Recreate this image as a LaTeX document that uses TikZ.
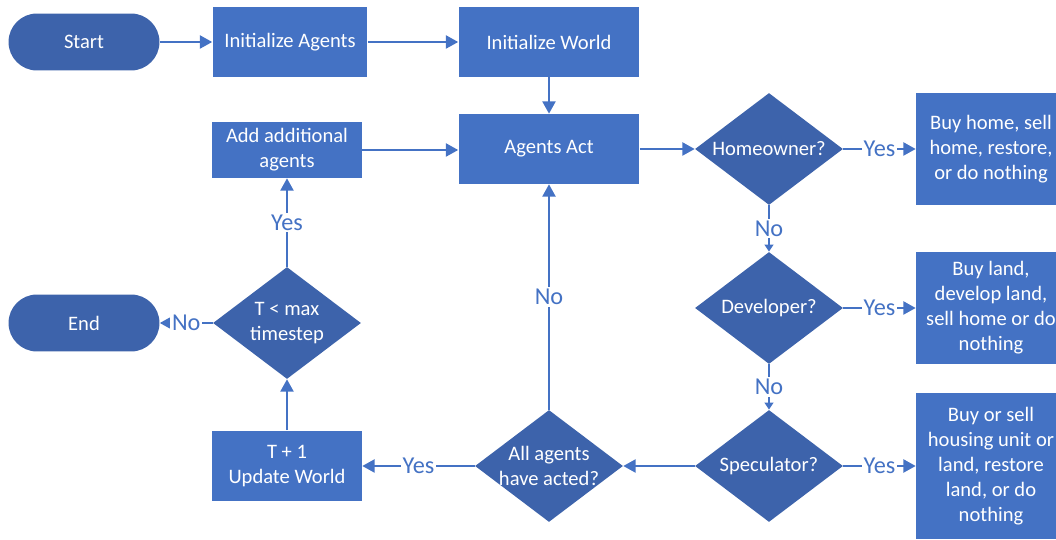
\documentclass[tikz,border=0pt]{standalone}
\usepackage{fontspec}
\setmainfont{Carlito}
\usepackage{xcolor}
\usepackage{tikz}
\definecolor{boxcolor}{RGB}{68, 114, 196}
\definecolor{darkcolor}{RGB}{61, 99, 171}
\usetikzlibrary{shapes.geometric, arrows.meta, positioning}

\begin{document}
\begin{tikzpicture}[
    x=0.02cm, y=-0.02cm,
    font=\fontsize{11.7}{14.2}\selectfont,
    terminal/.style={rectangle, rounded corners=0.57cm, fill=darkcolor, text=white, minimum width=3.02cm, minimum height=1.14cm},
    process/.style={rectangle, fill=boxcolor, text=white, align=center, minimum width=3.1cm, minimum height=1.4cm},
    decision/.style={diamond, fill=darkcolor, inner sep=0pt, minimum width=2.96cm, minimum height=2.24cm, label={[text=white, align=center]center:#1}},
    action/.style={rectangle, fill=boxcolor, text=white, align=center, minimum width=3cm, minimum height=2.24cm},
    flow/.style={draw=boxcolor, line width=1pt, -{Triangle[length=7pt, width=7.5pt]}},
    shortflow/.style={draw=boxcolor, line width=1pt, -{Triangle[length=4pt, width=5pt]}},
    ans/.style={fill=white, text=boxcolor, inner sep=1pt, font=\fontsize{13.8}{16}\selectfont}
]
    \useasboundingbox (0,0) rectangle (1056,540);
    \clip (0,0) rectangle (1056,540);

    % Top row
    \node[terminal] (start) at (84, 42) {Start};
    \node[process] (initagents) at (290, 42) {Initialize Agents};
    \node[process, minimum width=3.62cm] (initworld) at (549, 42) {Initialize World};

    % Main loop
    \node[process, minimum width=3.62cm] (act) at (549, 149) {Agents Act};
    \node[process, minimum width=3cm, minimum height=1.12cm] (addagents) at (287, 150) {Add additional\\agents};

    % Agent types
    \node[decision={Homeowner?}] (homeowner) at (769, 149) {};
    \node[decision={Developer?}] (developer) at (769, 308) {};
    \node[decision={Speculator?}] (speculator) at (769, 466) {};

    \node[action] (homeact) at (991, 149) {Buy home, sell\\home, restore,\\or do nothing};
    \node[action] (devact) at (991, 308) {Buy land,\\develop land,\\sell home or do\\nothing};
    \node[action, minimum height=2.92cm] (specact) at (991, 466) {Buy or sell\\housing unit or\\land, restore\\land, or do\\nothing};

    % Bottom row
    \node[decision={All agents\\have acted?}] (done) at (549, 466) {};
    \node[process, minimum width=3cm, minimum height=1.42cm] (update) at (287, 466) {T + 1\\Update World};
    \node[decision={T < max\\timestep}] (maxtime) at (287, 323) {};
    \node[terminal] (end) at (84, 323) {End};

    % Connectors
    \draw[flow] (start) -- (initagents);
    \draw[flow] (initagents) -- (initworld);
    \draw[flow] (initworld) -- (act);
    \draw[flow] (addagents.east) -- (addagents.east -| act.west);
    \draw[flow] (act) -- (homeowner);
    \draw[flow] (homeowner) -- node[ans] {Yes} (homeact);
    \draw[shortflow] (homeowner) -- node[ans] {No} (developer);
    \draw[flow] (developer) -- node[ans] {Yes} (devact);
    \draw[shortflow] (developer) -- node[ans] {No} (speculator);
    \draw[flow] (speculator) -- node[ans] {Yes} (specact);
    \draw[flow] (speculator) -- (done);
    \draw[flow] (done) -- node[ans] {No} (act);
    \draw[flow] (done) -- node[ans] {Yes} (update);
    \draw[flow] (update) -- (maxtime);
    \draw[flow] (maxtime) -- node[ans] {Yes} (addagents);
    \draw[flow] (maxtime) -- node[ans] {No} (end);
\end{tikzpicture}
\end{document}
